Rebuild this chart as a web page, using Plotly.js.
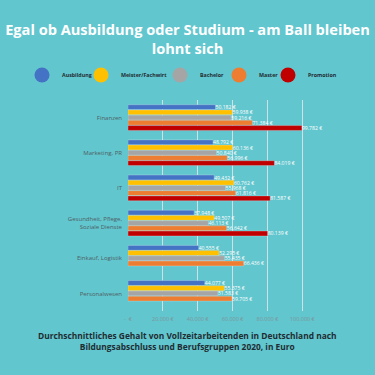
<!DOCTYPE html>
<html><head><meta charset="utf-8">
<script src="https://cdn.plot.ly/plotly-3.0.1.min.js"></script>
<style>html,body{margin:0;padding:0;background:#62C6CE;}#c{width:375px;height:375px;}</style>
</head><body><div id="c"></div>
<script>
const categories = ["Finanzen", "Marketing, PR", "IT", "Gesundheit, Pflege,<br>Soziale Dienste", "Einkauf, Logistik", "Personalwesen"];
const seriesNames = ["Ausbildung", "Meister/Fachwirt", "Bachelor", "Master", "Promotion"];
const ausbildung = [50182, 48792, 49432, 37948, 40555, 44077];
const meister = [59938, 60136, 60762, 49507, 52295, 55375];
const bachelor = [59216, 50840, 55968, 46113, 55435, 51583];
const master = [71384, 56996, 61816, 56642, 66436, 59705];
const promotion = [99782, 84019, 81587, 80139, null, null];
const colors = ["#4472C4", "#FFC000", "#A5A5A5", "#ED7D31", "#C00000"];
const tickVals = [0, 20000, 40000, 60000, 80000, 100000];
const tickText = ["-  €", "20.000 €", "40.000 €", "60.000 €", "80.000 €", "100.000 €"];

function fmt(v){ if(v===null) return ""; return v.toString().replace(/\B(?=(\d{3})+(?!\d))/g, ".") + " €"; }

const allSeries = [ausbildung, meister, bachelor, master, promotion];
const legendIds = ["legend", "legend2", "legend3", "legend4", "legend5"];
const legendLeft = [22, 81, 160, 219, 268];
const traces = [];
allSeries.forEach((vals, i) => {
  traces.push({
    type: "bar", orientation: "h", name: seriesNames[i],
    y: categories, x: vals,
    text: vals.map(fmt), textposition: "outside", cliponaxis: false,
    constraintext: "none",
    textfont: {family: "Open Sans, sans-serif", size: 5.1, color: "#ffffff"},
    marker: {color: colors[i], line: {color: "rgba(220,235,240,0.6)", width: 0.5}},
    showlegend: false, hoverinfo: "skip"
  });
});
seriesNames.forEach((n, i) => {
  traces.push({
    type: "scatter", mode: "markers", name: n, x: [null], y: [null],
    marker: {color: colors[i], size: 15, symbol: "circle"},
    showlegend: true, legend: legendIds[i], hoverinfo: "skip"
  });
});

const layout = {
  width: 375, height: 375,
  paper_bgcolor: "#62C6CE", plot_bgcolor: "#62C6CE",
  margin: {l: 128, r: 3, t: 99.5, b: 64, autoexpand: false},
  barmode: "group", bargap: 0.26, bargroupgap: 0.06,
  title: {
    text: "<b>Egal ob Ausbildung oder Studium - am Ball bleiben<br>lohnt sich</b>",
    font: {family: "Open Sans, sans-serif", size: 14.6, color: "#ffffff"},
    x: 0.5, xref: "container", xanchor: "center",
    y: 0.907, yref: "container", yanchor: "middle", automargin: false
  },
  xaxis: {
    range: [0, 140000], tickvals: tickVals, ticktext: tickText, tickangle: 0,
    showgrid: true, gridcolor: "rgba(225,230,232,0.85)", gridwidth: 1,
    zeroline: false, showline: false, ticks: "", ticklabelstandoff: 3,
    tickfont: {family: "Open Sans, sans-serif", size: 5.5, color: "#7d949a"},
    fixedrange: true, automargin: false
  },
  yaxis: {
    autorange: "reversed", showgrid: false, zeroline: false, showline: false, ticks: "",
    ticklabelstandoff: 5, automargin: false,
    tickfont: {family: "Open Sans, sans-serif", size: 6, color: "#4d5f64"},
    fixedrange: true
  },
  annotations: [{
    text: "<b>Durchschnittliches Gehalt von Vollzeitarbeitenden in Deutschland nach<br>Bildungsabschluss und Berufsgruppen 2020, in Euro</b>",
    xref: "paper", yref: "paper", x: 0.242, y: -0.142, xanchor: "center", yanchor: "middle",
    showarrow: false, align: "center",
    font: {family: "Open Sans, sans-serif", size: 8.4, color: "#1f2d33"}
  }]
};
legendIds.forEach((id, i) => {
  layout[id] = {
    orientation: "h", xref: "container", yref: "container",
    x: legendLeft[i] / 375, xanchor: "left", y: 0.8, yanchor: "middle",
    itemsizing: "trace", itemwidth: 30, borderwidth: 0,
    font: {family: "Open Sans, sans-serif", size: 5.3, color: "#1f2d33", weight: "bold"},
    bgcolor: "rgba(0,0,0,0)"
  };
});
Plotly.newPlot("c", traces, layout, {displayModeBar: false, staticPlot: true});
</script></body></html>
